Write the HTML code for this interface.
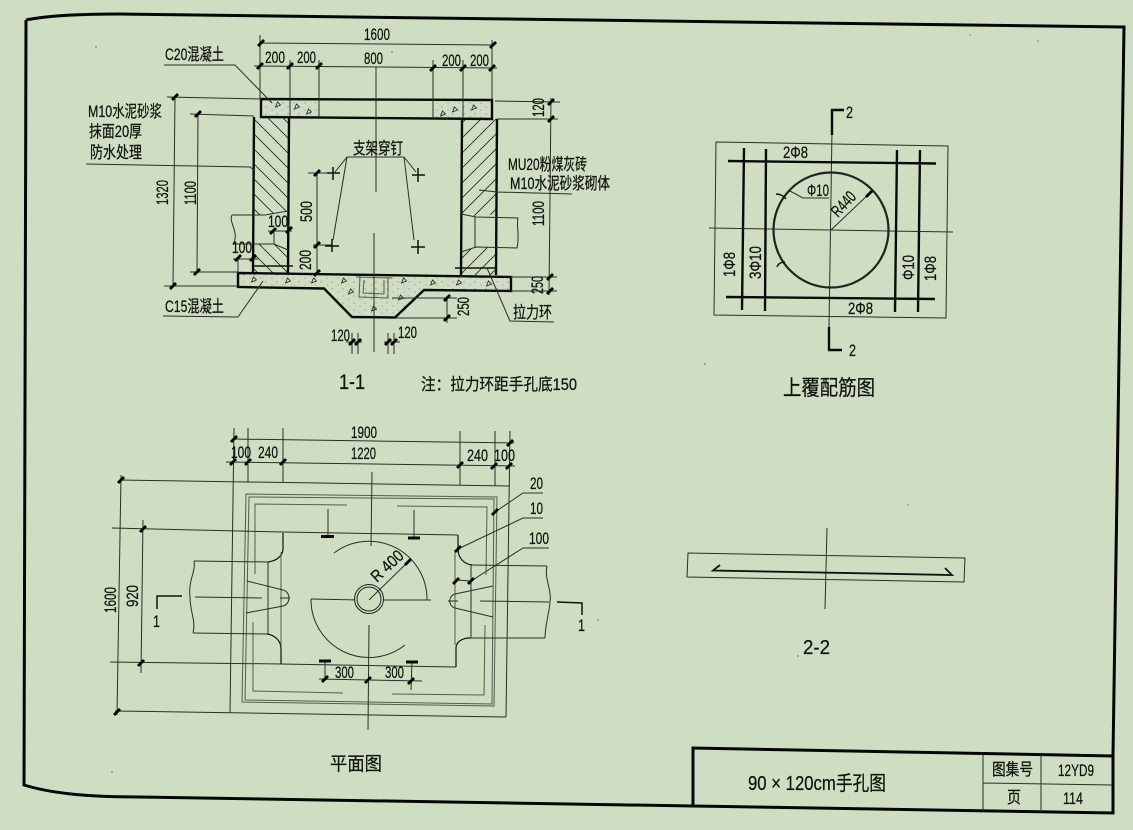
<!DOCTYPE html>
<html><head><meta charset="utf-8"><style>
html,body{margin:0;padding:0;background:#cfdec3;}
svg{display:block;}
text{font-family:"Liberation Sans","Noto Sans CJK SC",sans-serif;font-size:16.5px;fill:#10130e;stroke:#10130e;stroke-width:.25px;}
.l{stroke:#2a2e26;stroke-width:1;fill:none;}
.g{stroke:#555b50;stroke-width:1;fill:none;}
.m{stroke:#111;stroke-width:1.5;fill:none;}
.h{stroke:#0a0a0a;stroke-width:2.4;fill:none;}
.f{stroke:#050505;stroke-width:3;fill:none;}
</style></head><body>
<svg xmlns="http://www.w3.org/2000/svg" width="1133" height="830" viewBox="0 0 1133 830">
<defs>
<g id="t"><line x1="-3" y1="3" x2="3" y2="-3" stroke="#000" stroke-width="2.8"/></g>
<path id="v" d="M-2.5 2L2.5 0L-.5 -3Z" fill="none" stroke="#222" stroke-width=".8"/>
<pattern id="hl" width="15" height="15" patternUnits="userSpaceOnUse"><path d="M-2 -2L17 17M13 -2L17 2M-2 13L2 17" stroke="#222" stroke-width=".8"/></pattern>
<pattern id="hr" width="15" height="15" patternUnits="userSpaceOnUse"><path d="M-2 17L17 -2M-2 2L2 -2M13 17L17 13" stroke="#222" stroke-width=".8"/></pattern>
<pattern id="st" width="11" height="7" patternUnits="userSpaceOnUse"><circle cx="2" cy="2" r=".5" fill="#555"/><circle cx="8" cy="5" r=".45" fill="#666"/></pattern>
</defs>
<rect width="1133" height="830" fill="#cfdec3"/>

<!-- specks -->
<g fill="#555"><circle cx="96" cy="47" r=".7"/><circle cx="392" cy="52" r=".7"/><circle cx="705" cy="364" r=".7"/><circle cx="112" cy="772" r=".7"/><circle cx="908" cy="505" r=".6"/><circle cx="970" cy="35" r=".6"/><circle cx="598" cy="620" r=".6"/><circle cx="798" cy="656" r=".7"/><circle cx="1038" cy="41" r=".6"/></g>

<!-- frame -->
<path class="f" d="M26 20C45 16 75 14 120 14L1124 27L1113 756M26 20L24 785C50 793 85 797 140 797L693 806"/>
<path class="f" d="M693 806L693 748L1113 756L1113 813L693 806"/>
<path class="l" d="M983 755L983 811M1041 755L1041 812M983 783L1112 785"/>
<text x="748" y="790" style="font-size:20px" textLength="138" lengthAdjust="spacingAndGlyphs">90 × 120cm手孔图</text>
<text x="992" y="775" textLength="41" lengthAdjust="spacingAndGlyphs">图集号</text>
<text x="1058" y="776" textLength="36" lengthAdjust="spacingAndGlyphs">12YD9</text>
<text x="1007" y="803" textLength="14" lengthAdjust="spacingAndGlyphs">页</text>
<text x="1063" y="804" textLength="20" lengthAdjust="spacingAndGlyphs">114</text>

<!-- SECTION 1-1 -->
<polygon points="261,99 319,99.5 319,117.5 261,117" fill="url(#st)"/>
<polygon points="433,100 492,100 492,119 433,118.5" fill="url(#st)"/>
<polygon points="238,273 511,277 511,291 424,290 395,317.5 352,317 324,288.5 238,287" fill="url(#st)"/>
<polygon points="254,117 289,117 288,211 265,215 253,215" fill="url(#hl)"/>
<polygon points="253,244 274,244 288,250 288,273 253,273" fill="url(#hl)"/>
<polygon points="462,119 497,119 496,214 476,217 461,214" fill="url(#hr)"/>
<polygon points="461,252 476,247 496,247 496,275 461,275" fill="url(#hr)"/>
<path class="h" d="M261 99L492 100L492 119L261 117Z"/>
<path class="h" d="M254 117L253 273M289 117L288 273M462 119L461 275M497 119L496 275"/>
<path class="h" d="M238 273L511 277L511 291L424 290L395 317.5L352 317L324 288.5L238 287Z"/>
<path class="m" d="M253 266L293 266M455 268L495 268"/>
<path class="l" d="M319 99V117M433 100V118"/>
<path class="g" d="M360 276L359 297L388 298L388 277M364 280L363 293L384 294L384 280M356 277L392 278"/>
<path class="l" d="M232 215L265 215L288 211M274 233L274 244L288 250M253 244L274 244M232 215C228 222 240 232 233 244L253 244"/>
<path class="l" d="M461 214L476 217L518 218C516 225 520 235 517 248L476 247L461 252M475 217V247"/>
<!-- concrete triangles -->
<g>
<use href="#v" x="278" y="105"/><use href="#v" x="297" y="107"/><use href="#v" x="309" y="112"/>
<use href="#v" x="443" y="114"/><use href="#v" x="455" y="110"/><use href="#v" x="474" y="108"/>
<use href="#v" x="254" y="280"/><use href="#v" x="288" y="281"/><use href="#v" x="314" y="281"/><use href="#v" x="344" y="281"/>
<use href="#v" x="351" y="292"/><use href="#v" x="404" y="281"/><use href="#v" x="433" y="283"/><use href="#v" x="459" y="283"/><use href="#v" x="489" y="284"/><use href="#v" x="401" y="298"/><use href="#v" x="374" y="309"/>
</g>
<!-- dims top -->
<path class="l" d="M260 35V99M492 40V100M290 60V117M319 60V99M433 60V100M463 60V118M260 43L493 45M254 66L497 68M376 67V192"/>
<use href="#t" x="261" y="43"/><use href="#t" x="493" y="45"/>
<use href="#t" x="260" y="66"/><use href="#t" x="290" y="66"/><use href="#t" x="319" y="66"/><use href="#t" x="433" y="68"/><use href="#t" x="463" y="68"/><use href="#t" x="492" y="68"/>
<text x="364" y="40" textLength="26" lengthAdjust="spacingAndGlyphs">1600</text>
<text x="265" y="63" textLength="20" lengthAdjust="spacingAndGlyphs">200</text>
<text x="297" y="63" textLength="19" lengthAdjust="spacingAndGlyphs">200</text>
<text x="364" y="64" textLength="19" lengthAdjust="spacingAndGlyphs">800</text>
<text x="442" y="66" textLength="19" lengthAdjust="spacingAndGlyphs">200</text>
<text x="470" y="66" textLength="19" lengthAdjust="spacingAndGlyphs">200</text>
<text x="165" y="60" textLength="59" lengthAdjust="spacingAndGlyphs">C20混凝土</text>
<path class="l" d="M164 65L235 65L272 103"/>
<text x="88" y="117" textLength="74" lengthAdjust="spacingAndGlyphs">M10水泥砂浆</text>
<text x="89" y="137" textLength="53" lengthAdjust="spacingAndGlyphs">抹面20厚</text>
<text x="90" y="158" textLength="52" lengthAdjust="spacingAndGlyphs">防水处理</text>
<path class="l" d="M86 164L250 167L254 170"/>
<!-- dims left -->
<path class="l" d="M167 97L261 99M190 114L254 116M175 97L173 286M198 114L197 272M164 286L238 286M190 272L238 272"/>
<use href="#t" x="175" y="97"/><use href="#t" x="198" y="114"/><use href="#t" x="173" y="286"/><use href="#t" x="197" y="272"/>
<text transform="translate(168,205) rotate(-90)" textLength="25" lengthAdjust="spacingAndGlyphs">1320</text>
<text transform="translate(196,205) rotate(-90)" textLength="24" lengthAdjust="spacingAndGlyphs">1100</text>
<!-- inner dims -->
<path class="l" d="M317 173V273M308 173L333 173M313 245L332 245M268 231L292 231M233 259L258 259M238 258V273M274 231V233"/>
<use href="#t" x="317" y="173"/><use href="#t" x="317" y="245"/><use href="#t" x="317" y="273"/><use href="#t" x="273" y="231"/><use href="#t" x="289" y="230"/><use href="#t" x="238" y="258"/><use href="#t" x="253" y="258"/>
<text transform="translate(312,222) rotate(-90)" textLength="21" lengthAdjust="spacingAndGlyphs">500</text>
<text transform="translate(311,270) rotate(-90)" textLength="20" lengthAdjust="spacingAndGlyphs">200</text>
<text x="268" y="227" textLength="20" lengthAdjust="spacingAndGlyphs">100</text>
<text x="232" y="253" textLength="20" lengthAdjust="spacingAndGlyphs">100</text>
<path class="m" d="M333 167V180M327 173H340M332 239V252M325 246H339M418 168V182M412 175H425M418 240V254M411 247H425"/>
<text x="353" y="154" textLength="50" lengthAdjust="spacingAndGlyphs">支架穿钉</text>
<path class="l" d="M404 157L347 157L335 172M347 157L333 240M404 157L416 172M404 157L414 240"/>
<path class="l" d="M374 233V352"/>
<!-- dims right -->
<path class="l" d="M495 101L560 102M497 119L558 119M511 277L557 277M511 291L557 291M551 98L549 295"/>
<use href="#t" x="551" y="102"/><use href="#t" x="551" y="119"/><use href="#t" x="550" y="277"/><use href="#t" x="550" y="291"/>
<text transform="translate(544,117) rotate(-90)" textLength="19" lengthAdjust="spacingAndGlyphs">120</text>
<text transform="translate(544,226) rotate(-90)" textLength="25" lengthAdjust="spacingAndGlyphs">1100</text>
<text transform="translate(543,294) rotate(-90)" textLength="18" lengthAdjust="spacingAndGlyphs">250</text>
<text x="508" y="170" textLength="79" lengthAdjust="spacingAndGlyphs">MU20粉煤灰砖</text>
<text x="510" y="189" textLength="100" lengthAdjust="spacingAndGlyphs">M10水泥砂浆砌体</text>
<path class="l" d="M479 190L497 192L572 194"/>
<path class="l" d="M392 298L457 298M395 318L457 318M447 297V323"/>
<use href="#t" x="447" y="298"/><use href="#t" x="447" y="318"/>
<text transform="translate(469,316) rotate(-90)" textLength="19" lengthAdjust="spacingAndGlyphs">250</text>
<path class="l" d="M352 333V354M358 333V354M388 333V354M394 333V354M346 342H362M384 342H400"/>
<use href="#t" x="352" y="342"/><use href="#t" x="358" y="342"/><use href="#t" x="388" y="342"/><use href="#t" x="394" y="342"/>
<text x="331" y="341" textLength="19" lengthAdjust="spacingAndGlyphs">120</text>
<text x="398" y="338" textLength="19" lengthAdjust="spacingAndGlyphs">120</text>
<text x="165" y="312" textLength="59" lengthAdjust="spacingAndGlyphs">C15混凝土</text>
<path class="l" d="M163 316L238 317L263 281"/>
<text x="513" y="318" textLength="39" lengthAdjust="spacingAndGlyphs">拉力环</text>
<path class="l" d="M554 322L510 321L487 268"/>
<text x="339" y="389" style="font-size:21px" textLength="26" lengthAdjust="spacingAndGlyphs">1-1</text>
<text x="421" y="390" textLength="156" lengthAdjust="spacingAndGlyphs">注：拉力环距手孔底150</text>

<!-- REBAR -->
<path class="l" d="M716 142L948 146L946 318L714 315Z"/>
<path class="l" d="M709 228L953 232M832 130L829 327M831 230L872 191M790 191L803 198L829 198"/>
<use href="#t" x="869" y="194"/>
<path class="h" d="M728 161L936 163.5M726 297L935 299M744 148L742 310M766 149L765 311M897 150L895 312M920 150L918 312"/>
<circle cx="831" cy="230" r="57.5" fill="none" stroke="#222" stroke-width="2.2"/>
<path class="m" d="M776 194C780 194 784 196 786 199M785 262C781 262 778 264 777 267"/>
<path class="h" d="M832 135V110H844M829 327V350H842"/>
<text x="846" y="118" textLength="7" lengthAdjust="spacingAndGlyphs">2</text>
<text x="849" y="356" textLength="7" lengthAdjust="spacingAndGlyphs">2</text>
<text x="783" y="158" textLength="25" lengthAdjust="spacingAndGlyphs">2Φ8</text>
<text x="848" y="314" textLength="25" lengthAdjust="spacingAndGlyphs">2Φ8</text>
<text x="807" y="196" textLength="22" lengthAdjust="spacingAndGlyphs">Φ10</text>
<text transform="translate(838,218) rotate(-47)" textLength="28" lengthAdjust="spacingAndGlyphs">R440</text>
<text transform="translate(735,277) rotate(-90)" textLength="25" lengthAdjust="spacingAndGlyphs">1Φ8</text>
<text transform="translate(761,279) rotate(-90)" textLength="33" lengthAdjust="spacingAndGlyphs">3Φ10</text>
<text transform="translate(914,280) rotate(-90)" textLength="25" lengthAdjust="spacingAndGlyphs">Φ10</text>
<text transform="translate(936,281) rotate(-90)" textLength="25" lengthAdjust="spacingAndGlyphs">1Φ8</text>
<text x="783" y="395" style="font-size:21px" textLength="92" lengthAdjust="spacingAndGlyphs">上覆配筋图</text>

<!-- 2-2 -->
<path class="l" d="M688 553L965 558L964 582L687 577ZM827 528L825 609"/>
<path class="m" d="M720 565L713 570.5L952 575L945 568" style="stroke-width:1.8"/>
<text x="803" y="654" style="font-size:20px" textLength="27" lengthAdjust="spacingAndGlyphs">2-2</text>

<!-- PLAN -->
<path class="g" d="M246 494L497 497L494 706L242 702ZM249 497L494 499L492 704L245 700Z"/>
<path class="g" d="M255 574L255 504L347 505M397 506L487 507L486 575M253 622L253 691L343 693M392 694L484 695L485 625"/>
<path class="l" d="M234 428L230 713M248 428V482M283 428V482M460 431V485M495 431V486M510 431L506 717"/>
<path class="l" d="M233 439L514 443M226 462L515 466M120 480L510 486M115 711L506 717M112 528L283 532L458 535M110 662L281 664L456 667"/>
<path class="l" d="M121 475L117 715M143 520L141 673"/>
<use href="#t" x="234" y="439"/><use href="#t" x="510" y="443"/>
<use href="#t" x="233" y="462"/><use href="#t" x="248" y="462"/><use href="#t" x="283" y="462"/><use href="#t" x="460" y="465"/><use href="#t" x="494" y="466"/><use href="#t" x="509" y="466"/>
<use href="#t" x="121" y="480"/><use href="#t" x="117" y="712"/><use href="#t" x="143" y="529"/><use href="#t" x="141" y="663"/>
<text x="351" y="438" textLength="26" lengthAdjust="spacingAndGlyphs">1900</text>
<text x="231" y="458" textLength="20" lengthAdjust="spacingAndGlyphs">100</text>
<text x="258" y="458" textLength="20" lengthAdjust="spacingAndGlyphs">240</text>
<text x="351" y="459" textLength="25" lengthAdjust="spacingAndGlyphs">1220</text>
<text x="467" y="461" textLength="21" lengthAdjust="spacingAndGlyphs">240</text>
<text x="494" y="461" textLength="21" lengthAdjust="spacingAndGlyphs">100</text>
<text transform="translate(116,613) rotate(-90)" textLength="26" lengthAdjust="spacingAndGlyphs">1600</text>
<text transform="translate(138,607) rotate(-90)" textLength="22" lengthAdjust="spacingAndGlyphs">920</text>
<!-- chamber -->
<path class="m" d="M283 533V549C283 556 276 561 268 562M281 664V649C281 640 274 635 267 634M458 535V549C458 558 464 564 472 565M456 667V648C456 642 462 638 470 638" style="stroke-width:1.2"/>
<path class="g" d="M281 552V645M455 552V645"/>
<path class="l" d="M194 561L268 562M193 633L267 634M268 562V634M472 565L547 566M470 638L545 638M471 565V638"/>
<path class="l" d="M194 561C196 572 188 580 190 597C190 612 196 620 193 633M547 566C544 578 552 590 550 602C549 614 545 626 545 638"/>
<path class="l" d="M247 581L283 590C291 592 291 604 283 606L246 613M493 586L455 594C448 596 448 606 455 608L493 617"/>
<path class="l" d="M195 597L262 598M480 601L549 602M280 598H290M448 601H458"/>
<path class="m" d="M182 596H157V609M557 602L582 603V615"/>
<text x="153" y="627" textLength="7" lengthAdjust="spacingAndGlyphs">1</text>
<text x="578" y="631" textLength="7" lengthAdjust="spacingAndGlyphs">1</text>
<path class="l" d="M372 472L371 546M369 625L368 730M311 599L360 600L431 600"/>
<path class="l" d="M334 553A58 58 0 0 1 427 600M311 599A58 58 0 0 0 405 645"/>
<circle cx="369" cy="599" r="14.5" fill="#cfdec3" stroke="#222" stroke-width="1"/>
<circle cx="369" cy="599" r="12" fill="none" stroke="#222" stroke-width="1"/>
<path class="l" d="M369 600L410 560"/>
<use href="#t" x="408" y="562"/>
<text transform="translate(377,583) rotate(-43)" textLength="38" lengthAdjust="spacingAndGlyphs">R 400</text>
<path class="l" d="M328 509V536M414 510V537M325 661V680M412 662L411 690M319 679L422 681"/>
<path class="h" d="M321 536.5H334M408 538H420M319 661H331M406 662H418" style="stroke-width:3"/>
<use href="#t" x="325" y="679"/><use href="#t" x="368" y="680"/><use href="#t" x="411" y="681"/>
<text x="335" y="678" textLength="19" lengthAdjust="spacingAndGlyphs">300</text>
<text x="385" y="678" textLength="19" lengthAdjust="spacingAndGlyphs">300</text>
<text x="530" y="489" textLength="13" lengthAdjust="spacingAndGlyphs">20</text>
<text x="530" y="514" textLength="13" lengthAdjust="spacingAndGlyphs">10</text>
<text x="529" y="544" textLength="20" lengthAdjust="spacingAndGlyphs">100</text>
<path class="l" d="M543 493H523L495 512M543 518H523L458 549M549 548H523L471 581L456 580"/>
<use href="#t" x="495" y="512"/><use href="#t" x="458" y="549"/><use href="#t" x="456" y="581"/><use href="#t" x="471" y="581"/>
<text x="330" y="770" style="font-size:19px" textLength="52" lengthAdjust="spacingAndGlyphs">平面图</text>
</svg>
</body></html>
